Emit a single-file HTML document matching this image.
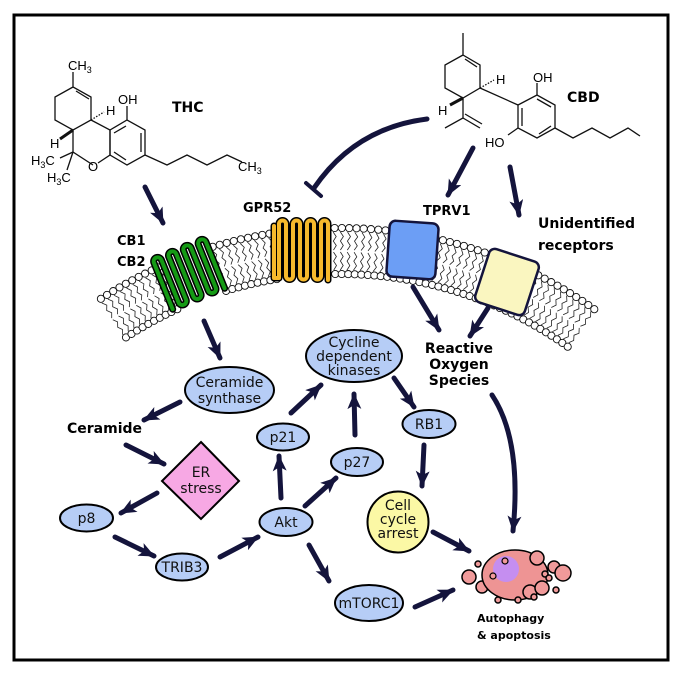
<!DOCTYPE html>
<html><head><meta charset="utf-8"><style>
html,body{margin:0;padding:0;background:#fff}
svg{display:block}
text{font-family:"DejaVu Sans","Liberation Sans",sans-serif}
.b{font-weight:bold}
.chem{font-family:"Liberation Sans",sans-serif;font-size:13px}
</style></head><body>
<svg id="s" width="680" height="674" viewBox="0 0 680 674" xmlns="http://www.w3.org/2000/svg">
<defs>
<marker id="ah" markerUnits="userSpaceOnUse" markerWidth="18" markerHeight="14" refX="15" refY="7" orient="auto">
<path d="M0,0 L16,7 L0,14 L4,7 Z" fill="#14143c"/>
</marker>
</defs>
<rect x="14" y="15" width="654" height="645" fill="#fff" stroke="#000" stroke-width="3"/>
<g id="mem"></g>

<!-- THC structure -->
<g fill="none" stroke="#111" stroke-width="1.3">
<polyline points="73,72 73,87 91,97 91,120 73,130 55,120 55,97 73,87"/>
<line x1="76" y1="91" x2="89" y2="99"/>
<polyline points="73,130 73,152 93,165"/>
<polyline points="98,163 110,155 110,130 91,120"/>
<polygon points="110,130 127,120 145,130 145,155 127,165 110,155"/>
<line x1="114" y1="133" x2="126" y2="126"/><line x1="141" y1="133" x2="141" y2="152"/><line x1="114" y1="152" x2="126" y2="160"/>
<line x1="127" y1="120" x2="127" y2="106"/>
<polyline points="145,155 167,165 187,155 207,165 227,155 242,162"/>
<line x1="73" y1="152" x2="60" y2="158"/><line x1="73" y1="152" x2="67" y2="170"/>
<line x1="91" y1="120" x2="104" y2="112" stroke-dasharray="1.5,1.5"/>
<line x1="73" y1="130" x2="60" y2="139" stroke-width="3"/>
</g>
<text class="chem" x="68" y="70">CH<tspan font-size="9" dy="3">3</tspan></text>
<text class="chem" x="118" y="104">OH</text>
<text class="chem" x="106" y="115">H</text>
<text class="chem" x="50" y="148">H</text>
<text class="chem" x="88" y="171">O</text>
<text class="chem" x="31" y="165">H<tspan font-size="9" dy="3">3</tspan><tspan dy="-3">C</tspan></text>
<text class="chem" x="47" y="182">H<tspan font-size="9" dy="3">3</tspan><tspan dy="-3">C</tspan></text>
<text class="chem" x="238" y="171">CH<tspan font-size="9" dy="3">3</tspan></text>
<text class="b" x="172" y="112" font-size="14">THC</text>

<!-- CBD structure -->
<g fill="none" stroke="#111" stroke-width="1.3">
<polyline points="463,33 463,55 480,65 480,88 463,98 445,88 445,65 463,55"/>
<line x1="465" y1="59" x2="477" y2="67"/>
<polyline points="463,98 463,118 445,128"/>
<line x1="463" y1="118" x2="480" y2="128"/><line x1="465" y1="114" x2="482" y2="124"/>
<line x1="480" y1="88" x2="518" y2="105"/>
<polygon points="518,105 537,95 555,105 555,128 537,138 518,128"/>
<line x1="522" y1="108" x2="522" y2="126"/><line x1="537" y1="99" x2="551" y2="107"/><line x1="539" y1="134" x2="551" y2="126"/>
<line x1="537" y1="95" x2="537" y2="83"/>
<line x1="518" y1="128" x2="508" y2="135"/>
<polyline points="555,128 573,138 592,128 610,138 628,128 640,136"/>
<line x1="480" y1="88" x2="494" y2="80" stroke-dasharray="1.5,1.5"/>
<line x1="463" y1="98" x2="450" y2="105" stroke-width="3"/>
</g>
<text class="chem" x="496" y="84">H</text>
<text class="chem" x="533" y="82">OH</text>
<text class="chem" x="438" y="115">H</text>
<text class="chem" x="485" y="147">HO</text>
<text class="b" x="567" y="102" font-size="14">CBD</text>

<!-- receptors -->
<g transform="rotate(-22 190 272)">
<path d="M160,300 L160,250 A4,4 0 0 1 168,250 L168,296 A4,4 0 0 0 176,296 L176,250 A4,4 0 0 1 184,250 L184,296 A4,4 0 0 0 192,296 L192,250 A4,4 0 0 1 200,250 L200,296 A4,4 0 0 0 208,296 L208,250 A4,4 0 0 1 216,250 L216,300" fill="none" stroke="#000" stroke-width="7" stroke-linecap="round"/>
<path d="M160,300 L160,250 A4,4 0 0 1 168,250 L168,296 A4,4 0 0 0 176,296 L176,250 A4,4 0 0 1 184,250 L184,296 A4,4 0 0 0 192,296 L192,250 A4,4 0 0 1 200,250 L200,296 A4,4 0 0 0 208,296 L208,250 A4,4 0 0 1 216,250 L216,300" fill="none" stroke="#159a15" stroke-width="4" stroke-linecap="round"/>
</g>
<g>
<path d="M274,226 L274,278 L279,278 L279,224 A3.5,3.5 0 0 1 286,224 L286,276 A3.5,3.5 0 0 0 293,276 L293,224 A3.5,3.5 0 0 1 300,224 L300,276 A3.5,3.5 0 0 0 307,276 L307,224 A3.5,3.5 0 0 1 314,224 L314,276 A3.5,3.5 0 0 0 321,276 L321,224 A3.5,3.5 0 0 1 328,224 L328,280" fill="none" stroke="#000" stroke-width="7" stroke-linecap="round" stroke-linejoin="round"/>
<path d="M274,226 L274,278 L279,278 L279,224 A3.5,3.5 0 0 1 286,224 L286,276 A3.5,3.5 0 0 0 293,276 L293,224 A3.5,3.5 0 0 1 300,224 L300,276 A3.5,3.5 0 0 0 307,276 L307,224 A3.5,3.5 0 0 1 314,224 L314,276 A3.5,3.5 0 0 0 321,276 L321,224 A3.5,3.5 0 0 1 328,224 L328,280" fill="none" stroke="#f6b92c" stroke-width="4" stroke-linecap="round" stroke-linejoin="round"/>
</g>
<rect x="388" y="222" width="49" height="56" rx="6" fill="#6c9ef5" stroke="#14143c" stroke-width="2.5" transform="rotate(4 412 250)"/>
<rect x="481" y="254" width="52" height="56" rx="6" fill="#faf6c0" stroke="#14143c" stroke-width="2.5" transform="rotate(18 507 282)"/>

<text class="b" x="117" y="245" font-size="13">CB1</text>
<text class="b" x="117" y="266" font-size="13">CB2</text>
<text class="b" x="243" y="212" font-size="13">GPR52</text>
<text class="b" x="423" y="215" font-size="13">TPRV1</text>
<text class="b" x="538" y="228" font-size="14">Unidentified</text>
<text class="b" x="538" y="250" font-size="14">receptors</text>

<!-- arrows -->
<g stroke="#14143c" stroke-width="5" fill="none" stroke-linecap="round">
<line x1="145" y1="187" x2="163" y2="223" marker-end="url(#ah)"/>
<path d="M427,119 Q355,128 314,188"/>
<line x1="306" y1="183" x2="321" y2="196" stroke-width="4"/>
<line x1="473" y1="148" x2="448" y2="195" marker-end="url(#ah)"/>
<line x1="510" y1="167" x2="519" y2="215" marker-end="url(#ah)"/>
<line x1="204" y1="321" x2="220" y2="358" marker-end="url(#ah)"/>
<line x1="413" y1="287" x2="439" y2="330" marker-end="url(#ah)"/>
<line x1="488" y1="308" x2="470" y2="336" marker-end="url(#ah)"/>
<line x1="180" y1="402" x2="144" y2="420" marker-end="url(#ah)"/>
<line x1="126" y1="445" x2="164" y2="464" marker-end="url(#ah)"/>
<line x1="157" y1="493" x2="121" y2="513" marker-end="url(#ah)"/>
<line x1="115" y1="537" x2="154" y2="556" marker-end="url(#ah)"/>
<line x1="220" y1="557" x2="258" y2="537" marker-end="url(#ah)"/>
<line x1="281" y1="498" x2="279" y2="456" marker-end="url(#ah)"/>
<line x1="291" y1="413" x2="321" y2="385" marker-end="url(#ah)"/>
<line x1="305" y1="506" x2="336" y2="478" marker-end="url(#ah)"/>
<line x1="309" y1="545" x2="329" y2="581" marker-end="url(#ah)"/>
<line x1="355" y1="435" x2="354" y2="394" marker-end="url(#ah)"/>
<line x1="394" y1="378" x2="414" y2="407" marker-end="url(#ah)"/>
<line x1="424" y1="445" x2="422" y2="486" marker-end="url(#ah)"/>
<line x1="433" y1="532" x2="469" y2="551" marker-end="url(#ah)"/>
<line x1="415" y1="607" x2="453" y2="590" marker-end="url(#ah)"/>
<path d="M492,395 Q522,440 513,531" marker-end="url(#ah)"/>
</g>

<!-- nodes -->
<g stroke="#000" stroke-width="2" fill="#b6cdf6">
<ellipse cx="229.5" cy="390" rx="44.5" ry="23"/>
<ellipse cx="86.5" cy="518" rx="26.5" ry="13.5"/>
<ellipse cx="182" cy="567" rx="26" ry="13.5"/>
<ellipse cx="286" cy="522" rx="26.5" ry="14"/>
<ellipse cx="283" cy="437" rx="26" ry="13.5"/>
<ellipse cx="357" cy="462" rx="26" ry="14"/>
<ellipse cx="354" cy="356" rx="48" ry="26"/>
<ellipse cx="429" cy="424" rx="26.5" ry="14"/>
<ellipse cx="369" cy="603" rx="34" ry="18"/>
<circle cx="398" cy="522" r="30.5" fill="#fbf8a5"/>
<polygon points="201,442 239,481 201,519 162,481" fill="#f7a8e4"/>
</g>
<g font-size="14" text-anchor="middle" fill="#111">
<text x="229.5" y="387">Ceramide</text><text x="229.5" y="403">synthase</text>
<text x="86.5" y="523">p8</text>
<text x="182" y="572">TRIB3</text>
<text x="286" y="527">Akt</text>
<text x="283" y="442">p21</text>
<text x="357" y="467">p27</text>
<text x="354" y="347">Cycline</text><text x="354" y="361">dependent</text><text x="354" y="375">kinases</text>
<text x="429" y="429">RB1</text>
<text x="369" y="608">mTORC1</text>
<text x="398" y="510">Cell</text><text x="398" y="524">cycle</text><text x="398" y="538">arrest</text>
<text x="201" y="477">ER</text><text x="201" y="493">stress</text>
</g>
<text class="b" x="67" y="433" font-size="14">Ceramide</text>
<g class="b" font-size="14" text-anchor="middle" font-weight="bold">
<text x="459" y="353">Reactive</text><text x="459" y="369">Oxygen</text><text x="459" y="385">Species</text>
</g>

<!-- cell -->
<g stroke="#000" stroke-width="1.5" fill="#f09a9a">
<circle cx="469" cy="577" r="7"/><circle cx="482" cy="587" r="6"/>
<ellipse cx="515" cy="575" rx="33" ry="25" fill="#ee9494"/>
<circle cx="537" cy="558" r="7"/><circle cx="554" cy="567" r="6"/><circle cx="563" cy="573" r="8"/>
<circle cx="530" cy="592" r="7"/><circle cx="542" cy="588" r="7"/>
<circle cx="478" cy="564" r="3"/><circle cx="545" cy="574" r="3"/><circle cx="549" cy="578" r="3"/>
<circle cx="556" cy="590" r="3"/><circle cx="498" cy="600" r="3"/><circle cx="518" cy="600" r="3"/><circle cx="534" cy="597" r="3"/>
</g>
<circle cx="506" cy="569" r="13" fill="#c58ef0"/>
<circle cx="493" cy="576" r="3" fill="#f09a9a" stroke="#000" stroke-width="1.2"/>
<circle cx="505" cy="561" r="3" fill="#f09a9a" stroke="#000" stroke-width="1.2"/>
<text class="b" x="477" y="622" font-size="11">Autophagy</text>
<text class="b" x="477" y="639" font-size="11">&amp; apoptosis</text>
</svg>
<script>
(function(){
var g=document.getElementById('mem');
var cx=340,cy=667,Rt=439,Rb=393,h='';
var skip=[[-24,-17],[-9,-1]];
function sk(a){for(var i=0;i<skip.length;i++)if(a>skip[i][0]&&a<skip[i][1])return true;return false;}
function pt(R,a){var r=a*Math.PI/180;return [cx+R*Math.sin(r),cy-R*Math.cos(r)];}
var heads='';
for(var a=-33;a<=36;a+=0.95){
 if(sk(a))continue;
 var p=pt(Rt,a),q=pt(Rb,a);
 var tl='',tl2='';
 for(var k=0;k<=4;k++){var R1=Rt-4-k*4.5,off=(k%2?1:-1)*0.2;var pp=pt(R1,a+off);tl+=(k?'L':'M')+pp[0].toFixed(1)+','+pp[1].toFixed(1);}
 for(var k=0;k<=4;k++){var R2=Rb+4+k*4.5,off=(k%2?1:-1)*0.2;var pp=pt(R2,a+off);tl2+=(k?'L':'M')+pp[0].toFixed(1)+','+pp[1].toFixed(1);}
 h+='<path d="'+tl+tl2+'" fill="none" stroke="#222" stroke-width="0.8"/>';
 heads+='<circle cx="'+p[0].toFixed(1)+'" cy="'+p[1].toFixed(1)+'" r="3.6" fill="#fff" stroke="#111" stroke-width="0.9"/>';
 heads+='<circle cx="'+q[0].toFixed(1)+'" cy="'+q[1].toFixed(1)+'" r="3.6" fill="#fff" stroke="#111" stroke-width="0.9"/>';
}
g.innerHTML=h+heads;
})();
</script>
</body></html>
